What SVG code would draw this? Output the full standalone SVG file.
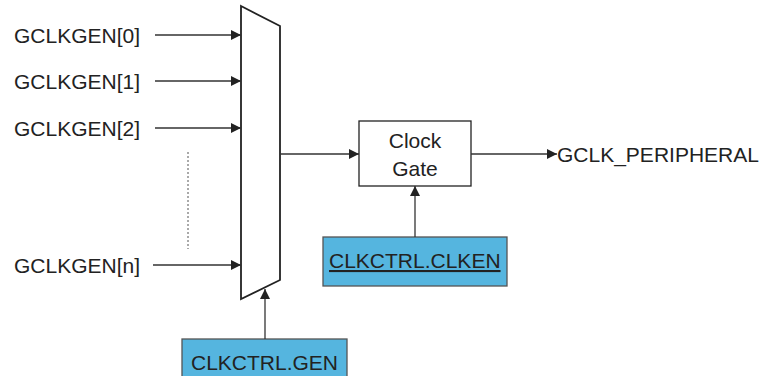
<svg xmlns="http://www.w3.org/2000/svg" width="762" height="376" viewBox="0 0 762 376">
<defs>
<marker id="ah" viewBox="0 0 10 10" refX="10" refY="5" markerWidth="10" markerHeight="10" markerUnits="userSpaceOnUse" orient="auto">
<path d="M0,0 L10,5 L0,10 Z" fill="#222"/>
</marker>
</defs>
<style>
text{font-family:"Liberation Sans",Arial,sans-serif;font-size:21px;fill:#222}
.ln{stroke:#333;stroke-width:1.3;fill:none}
.reg{fill:#55b5df;stroke:#555;stroke-width:1.3}
</style>
<g id="inputs">
<text x="14" y="43">GCLKGEN[0]</text>
<text x="14" y="89">GCLKGEN[1]</text>
<text x="14" y="136">GCLKGEN[2]</text>
<text x="14" y="273">GCLKGEN[n]</text>
<line x1="188" y1="152" x2="188" y2="249" stroke="#555" stroke-width="1" stroke-dasharray="2,2"/>
</g>
<g id="mux">
<polygon points="241,6 280,26 280,280 241,299" fill="#fff" stroke="#222" stroke-width="1.8"/>
</g>
<g id="clockgate">
<rect x="359" y="121" width="112" height="65" fill="#fff" stroke="#222" stroke-width="1.3"/>
<text x="415" y="148" text-anchor="middle">Clock</text>
<text x="415" y="176" text-anchor="middle">Gate</text>
</g>
<g id="output">
<text x="557" y="162">GCLK_PERIPHERAL</text>
</g>
<g id="clken">
<rect class="reg" x="323" y="237" width="184" height="49"/>
<text x="329" y="268" text-decoration="underline">CLKCTRL.CLKEN</text>
</g>
<g id="gen">
<rect class="reg" x="182" y="339" width="165" height="45"/>
<text x="191" y="370">CLKCTRL.GEN</text>
</g>
<g id="connectors">
<line class="ln" x1="155" y1="35" x2="241" y2="35" marker-end="url(#ah)"/>
<line class="ln" x1="155" y1="81" x2="241" y2="81" marker-end="url(#ah)"/>
<line class="ln" x1="155" y1="128" x2="241" y2="128" marker-end="url(#ah)"/>
<line class="ln" x1="153" y1="265" x2="241" y2="265" marker-end="url(#ah)"/>
<line class="ln" x1="280" y1="154" x2="359" y2="154" stroke-width="1.8" marker-end="url(#ah)"/>
<line class="ln" x1="471" y1="154" x2="557" y2="154" stroke-width="1.6" marker-end="url(#ah)"/>
<line class="ln" x1="415" y1="237" x2="415" y2="186" marker-end="url(#ah)"/>
<line class="ln" x1="265" y1="339" x2="265" y2="289" marker-end="url(#ah)"/>
</g>
</svg>
